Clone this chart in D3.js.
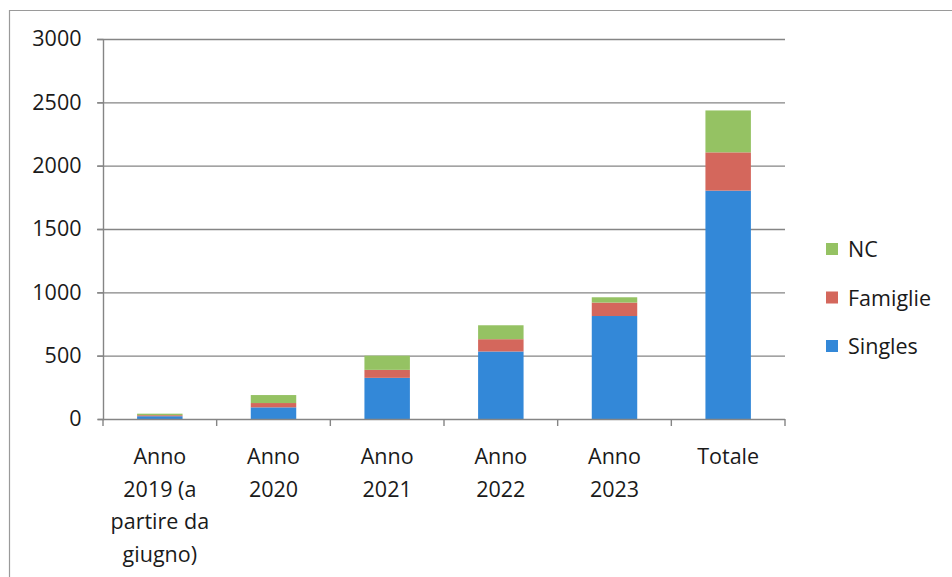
<!DOCTYPE html>
<html><head><meta charset="utf-8">
<script src="https://cdn.jsdelivr.net/npm/d3@7"></script>
<style>body{margin:0;background:#fff}svg{display:block}</style>
</head><body>
<svg id="c" width="952" height="577"></svg>
<script>
const categories = [["Anno","2019 (a","partire da","giugno)"],["Anno","2020"],["Anno","2021"],["Anno","2022"],["Anno","2023"],["Totale"]];
const catKeys = ["2019","2020","2021","2022","2023","Totale"];
const singles = [22, 92, 325, 533, 813, 1803];
const famiglie = [8, 34, 63, 97, 106, 302];
const nc = [12, 63, 112, 110, 42, 331];
const seriesNames = ["Singles","Famiglie","NC"];
const colors = ["#3388d8","#d4675c","#95c263"];
const yTicks = [0,500,1000,1500,2000,2500,3000];

const svg = d3.select("#c");
const font = "Open Sans, sans-serif";
const fs = 21.5;
const x0 = 103, x1 = 785, yTop = 39, yBot = 419;

// frame
svg.append("path").attr("d","M9.5,577 V10.5 H952").attr("fill","none").attr("stroke","#9a9a9a").attr("stroke-width",1.2);

const x = d3.scaleBand().domain(catKeys).range([x0,x1]).paddingInner(0.6).paddingOuter(0.3);
const y = d3.scaleLinear().domain([0,3000]).range([yBot,yTop]);

// gridlines
svg.append("g").selectAll("line").data(yTicks.slice(1)).join("line")
  .attr("x1",x0-6).attr("x2",x1).attr("y1",d=>y(d)+0.5).attr("y2",d=>y(d)+0.5)
  .attr("stroke","#858585").attr("stroke-width",1.4);

const data = catKeys.map((k,i)=>({key:k, Singles:singles[i], Famiglie:famiglie[i], NC:nc[i]}));
const stack = d3.stack().keys(seriesNames)(data);
svg.append("g").selectAll("g").data(stack).join("g").attr("fill",(d,i)=>colors[i])
  .selectAll("rect").data(d=>d).join("rect")
  .attr("x",d=>x(d.data.key)).attr("width",x.bandwidth())
  .attr("y",d=>y(d[1])).attr("height",d=>y(d[0])-y(d[1]));

// y axis
const yAxis = d3.axisLeft(y).tickValues(yTicks).tickSize(6).tickPadding(16).tickFormat(d3.format("d"));
const gy = svg.append("g").attr("transform",`translate(${x0+0.5},0)`).call(yAxis);
gy.select(".domain").attr("stroke","#858585").attr("stroke-width",1.4).attr("d",`M-6,${yBot+0.5}H0V${yTop}`);
gy.selectAll(".tick line").attr("stroke","#858585").attr("stroke-width",1.4);
gy.selectAll(".tick text").attr("font-family",font).attr("font-size",fs).attr("fill","#1a1a1a");

// x axis
const bounds = d3.range(catKeys.length+1).map(i=>x0 + i*(x1-x0)/catKeys.length);
svg.append("line").attr("x1",x0).attr("x2",x1).attr("y1",yBot+0.5).attr("y2",yBot+0.5).attr("stroke","#858585").attr("stroke-width",1.4);
svg.append("g").selectAll("line").data(bounds).join("line")
  .attr("x1",d=>d).attr("x2",d=>d).attr("y1",yBot).attr("y2",yBot+7)
  .attr("stroke","#858585").attr("stroke-width",1.4);
const gx = svg.append("g");
catKeys.forEach((k,i)=>{
  const t = gx.append("text").attr("x",x(k)+x.bandwidth()/2).attr("y",464)
    .attr("text-anchor","middle").attr("font-family",font).attr("font-size",fs).attr("fill","#1a1a1a");
  categories[i].forEach((line,j)=>t.append("tspan").attr("x",x(k)+x.bandwidth()/2).attr("dy",j?32.5:0).text(line));
});

// legend
const legendOrder = ["NC","Famiglie","Singles"];
const lg = svg.append("g");
legendOrder.forEach((n,i)=>{
  const cy = 249 + i*48.5;
  lg.append("rect").attr("x",826).attr("y",cy-6).attr("width",12).attr("height",12).attr("fill",colors[seriesNames.indexOf(n)]);
  lg.append("text").attr("x",848).attr("y",cy+8).attr("font-family",font).attr("font-size",fs).attr("fill","#1a1a1a").text(n);
});
</script>
</body></html>
